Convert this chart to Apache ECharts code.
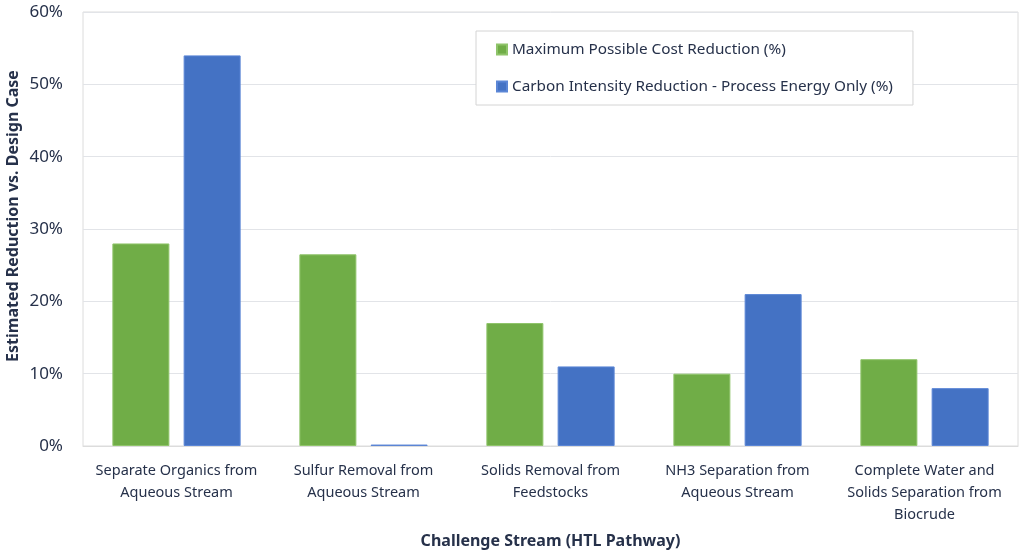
<!DOCTYPE html>
<html>
<head>
<meta charset="utf-8">
<script src="https://cdn.jsdelivr.net/npm/echarts@6/dist/echarts.min.js"></script>
<style>
  html, body { margin: 0; padding: 0; background: #fff; }
  #chart { width: 1021px; height: 554px; }
</style>
</head>
<body>
<div id="chart"></div>
<script>
// categories on the x axis
const categories = [
  'Separate Organics from\nAqueous Stream',
  'Sulfur Removal from\nAqueous Stream',
  'Solids Removal from\nFeedstocks',
  'NH3 Separation from\nAqueous Stream',
  'Complete Water and\nSolids Separation from\nBiocrude'
];

// values in percent
const costReduction = [28, 26.5, 17, 10, 12];
const carbonReduction = [54, 0.2, 11, 21, 8];

const seriesNames = [
  'Maximum Possible Cost Reduction (%)',
  'Carbon Intensity Reduction - Process Energy Only (%)'
];

const textColor = '#26314a';
const fontFamily = '"Noto Sans", "Open Sans", sans-serif';

const chart = echarts.init(document.getElementById('chart'), null, { renderer: 'canvas' });

chart.setOption({
  animation: false,
  textStyle: { fontFamily: fontFamily, color: textColor },
  grid: {
    left: 83, right: 3, top: 12, bottom: 108,
    outerBoundsMode: 'none',
    containLabel: false,
    show: true, borderColor: '#dcdcdc', borderWidth: 1
  },
  legend: {
    orient: 'vertical',
    left: 476, top: 31,
    padding: [11, 20, 11, 20],
    itemGap: 22,
    itemWidth: 10, itemHeight: 10,
    icon: 'rect',
    backgroundColor: '#fff',
    borderColor: '#d4d4d4', borderWidth: 1,
    textStyle: { fontSize: 15.3, color: textColor, fontFamily: fontFamily },
    data: seriesNames
  },
  xAxis: {
    type: 'category',
    data: categories,
    name: 'Challenge Stream (HTL Pathway)',
    nameLocation: 'middle',
    nameMoveOverlap: false,
    nameGap: 87,
    nameTextStyle: { fontSize: 16, fontWeight: 'bold', color: textColor },
    axisLine: { lineStyle: { color: '#dcdcdc' } },
    axisTick: { show: false },
    axisLabel: { fontSize: 14.5, color: textColor, lineHeight: 22, margin: 14, interval: 0 }
  },
  yAxis: {
    type: 'value',
    min: 0, max: 60, interval: 10,
    name: 'Estimated Reduction vs. Design Case',
    nameLocation: 'middle',
    nameMoveOverlap: false,
    nameGap: 62,
    nameTextStyle: { fontSize: 16, fontWeight: 'bold', color: textColor, padding: [0, 0, 0, 26] },
    axisLine: { show: false },
    axisTick: { show: false },
    axisLabel: { fontSize: 17, color: textColor, margin: 20, formatter: '{value}%' },
    splitLine: { lineStyle: { color: '#e2e4e8', width: 1 } }
  },
  series: [
    {
      name: seriesNames[0],
      type: 'bar',
      data: costReduction,
      barWidth: 57,
      barGap: '25%',
      itemStyle: { color: '#70ad47', borderColor: '#8fc46a', borderWidth: 1 }
    },
    {
      name: seriesNames[1],
      type: 'bar',
      data: carbonReduction,
      barWidth: 57,
      barGap: '25%',
      itemStyle: { color: '#4472c4', borderColor: '#5b86d6', borderWidth: 1 }
    }
  ]
});
</script>
</body>
</html>
